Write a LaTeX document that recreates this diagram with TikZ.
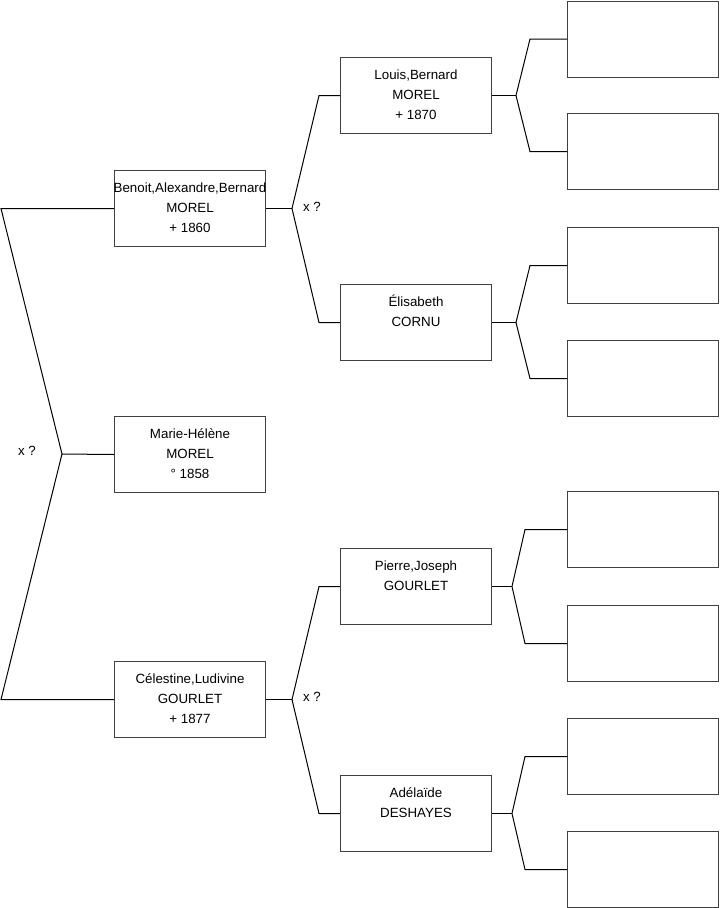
\documentclass[tikz,border=0pt]{standalone}
\usepackage{fontspec}
\setmainfont{Liberation Sans}
\usetikzlibrary{calc}
\begin{document}
\begin{tikzpicture}[x=0.75pt,y=-0.75pt,
  person/.style={draw=black!75, line width=0.75pt, rectangle, anchor=north west,
    minimum width=113.25pt, minimum height=57pt, inner sep=0pt, align=center,
    font=\fontsize{10}{15}\selectfont},
  link/.style={draw=black, line width=0.75pt},
  marr/.style={font=\fontsize{10}{15}\selectfont, inner sep=0pt}]
\useasboundingbox (0,0) rectangle (719,908);
% generation 1-2
\node[person] (ben) at (114,170) {\strut\makebox[0pt]{Benoit,Alexandre,Bernard}\\MOREL\\+ 1860\strut};
\node[person] (mar) at (114,416) {\strut Marie-Hélène\\MOREL\\° 1858\strut};
\node[person] (cel) at (114,661) {\strut Célestine,Ludivine\\GOURLET\\+ 1877\strut};
% generation 3
\node[person] (lou) at (340,57) {\strut Louis,Bernard\\MOREL\\+ 1870\strut};
\node[person] (eli) at (340,284) {\strut Élisabeth\\CORNU\\\strut};
\node[person] (pie) at (340,548) {\strut Pierre,Joseph\\GOURLET\\\strut};
\node[person] (ade) at (340,775) {\strut Adélaïde\\DESHAYES\\\strut};
% generation 4
\node[person, minimum width=113pt] (r1) at (567,0.5) {};
\node[person, minimum width=113pt] (r2) at (567,113) {};
\node[person, minimum width=113pt] (r3) at (567,227) {};
\node[person, minimum width=113pt] (r4) at (567,340) {};
\node[person, minimum width=113pt] (r5) at (567,491) {};
\node[person, minimum width=113pt] (r6) at (567,605) {};
\node[person, minimum width=113pt] (r7) at (567,718) {};
\node[person, minimum width=113pt] (r8) at (567,831) {};
% marriage labels
\node[marr] (m0) at (27,451) {x ?};
\node[marr] (m1) at (312,207) {x ?};
\node[marr] (m2) at (312,697) {x ?};
% root links
\coordinate (rj) at (62,454);
\draw[link] (ben.west) -- ($(ben.west)+(-113,0)$) -- (rj) -- ($(cel.west)+(-113,0)$) -- (cel.west);
\draw[link] (rj) -- (mar.west);
% Benoit
\coordinate (bj) at ($(ben.east)+(26,0)$);
\draw[link] (ben.east) -- (bj);
\draw[link] (bj) -- ($(lou.west)+(-21,0)$) -- (lou.west);
\draw[link] (bj) -- ($(eli.west)+(-21,0)$) -- (eli.west);
% Celestine
\coordinate (cj) at ($(cel.east)+(26,0)$);
\draw[link] (cel.east) -- (cj);
\draw[link] (cj) -- ($(pie.west)+(-21,0)$) -- (pie.west);
\draw[link] (cj) -- ($(ade.west)+(-21,0)$) -- (ade.west);
% Louis
\coordinate (lj) at ($(lou.east)+(24,0)$);
\draw[link] (lou.east) -- (lj);
\draw[link] (lj) -- ($(r1.west)+(-37,0)$) -- (r1.west);
\draw[link] (lj) -- ($(r2.west)+(-37,0)$) -- (r2.west);
% Elisabeth
\coordinate (ej) at ($(eli.east)+(24,0)$);
\draw[link] (eli.east) -- (ej);
\draw[link] (ej) -- ($(r3.west)+(-37,0)$) -- (r3.west);
\draw[link] (ej) -- ($(r4.west)+(-37,0)$) -- (r4.west);
% Pierre
\coordinate (pj) at ($(pie.east)+(20,0)$);
\draw[link] (pie.east) -- (pj);
\draw[link] (pj) -- ($(r5.west)+(-42,0)$) -- (r5.west);
\draw[link] (pj) -- ($(r6.west)+(-42,0)$) -- (r6.west);
% Adelaide
\coordinate (aj) at ($(ade.east)+(20,0)$);
\draw[link] (ade.east) -- (aj);
\draw[link] (aj) -- ($(r7.west)+(-42,0)$) -- (r7.west);
\draw[link] (aj) -- ($(r8.west)+(-42,0)$) -- (r8.west);
\end{tikzpicture}
\end{document}
